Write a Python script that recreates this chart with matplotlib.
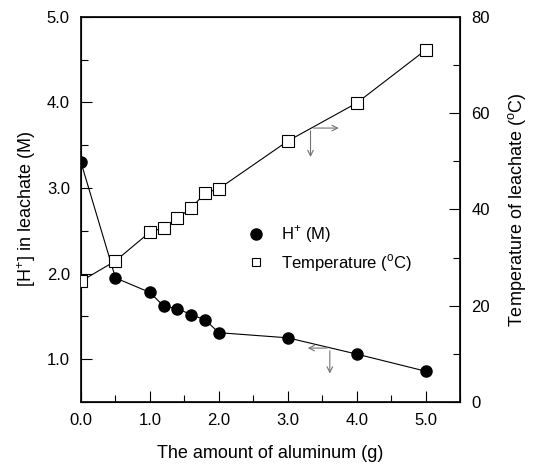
import matplotlib
matplotlib.use("Agg")
import matplotlib.pyplot as plt
from matplotlib.ticker import MultipleLocator
from matplotlib.lines import Line2D

plt.rcParams['font.family'] = ['Liberation Sans', 'DejaVu Sans']
plt.rcParams['mathtext.fontset'] = 'custom'
plt.rcParams['mathtext.rm'] = 'Liberation Sans'

# amount of aluminum (g)
aluminum = [0.0, 0.5, 1.0, 1.2, 1.4, 1.6, 1.8, 2.0, 3.0, 4.0, 5.0]
# [H+] in leachate (M)
h_conc = [3.30, 1.95, 1.78, 1.62, 1.59, 1.52, 1.46, 1.31, 1.25, 1.06, 0.86]
# leachate temperature (C)
temperature = [25.1, 29.3, 35.3, 36.2, 38.2, 40.3, 43.4, 44.3, 54.2, 62.1, 73.1]

fig = plt.figure(figsize=(5.4, 4.68), dpi=100)
ax = fig.add_axes([0.150, 0.141, 0.702, 0.823])
ax2 = ax.twinx()

ax.plot(aluminum, h_conc, '-', color='k', lw=0.8, marker='o', ms=8,
        mfc='k', mec='k', zorder=3)
ax2.plot(aluminum, temperature, '-', color='k', lw=0.8, marker='s', ms=8,
         mfc='white', mec='k', mew=0.8, zorder=3)

ax.set_xlim(0, 5.5)
ax.set_ylim(0.5, 5.0)
ax2.set_ylim(0, 80)

ax.xaxis.set_major_locator(MultipleLocator(1.0))
ax.xaxis.set_minor_locator(MultipleLocator(0.5))
ax.yaxis.set_major_locator(MultipleLocator(1.0))
ax.yaxis.set_minor_locator(MultipleLocator(0.5))
ax2.yaxis.set_major_locator(MultipleLocator(20))
ax2.yaxis.set_minor_locator(MultipleLocator(10))
ax.xaxis.set_major_formatter(lambda v, p: f"{v:.1f}")
ax.yaxis.set_major_formatter(lambda v, p: f"{v:.1f}")

ax.tick_params(axis='both', which='major', direction='in', length=8, width=0.8,
               labelsize=12, pad=8)
ax.tick_params(axis='both', which='minor', direction='in', length=5, width=0.8)
ax.tick_params(axis='x', top=False)
ax2.tick_params(axis='y', which='major', direction='in', length=8, width=0.8,
                labelsize=12, pad=8)
ax2.tick_params(axis='y', which='minor', direction='in', length=5, width=0.8)

for sp in ax.spines.values():
    sp.set_linewidth(1.2)

ax.set_xlabel('The amount of aluminum (g)', fontsize=13, labelpad=12)
ax.set_ylabel(r'[H$^{+}$] in leachate (M)', fontsize=13, labelpad=6)
ax2.set_ylabel(r'Temperature of leachate ($^{\mathrm{o}}$C)', fontsize=13, labelpad=12)

# arrows pointing to the axes each curve belongs to
arrow_kw = dict(arrowstyle='->', color='0.45', lw=0.8)
ax2.annotate('', xy=(3.78, 56.9), xytext=(3.33, 56.9), arrowprops=arrow_kw)
ax2.annotate('', xy=(3.33, 50.3), xytext=(3.33, 56.9), arrowprops=arrow_kw)
ax.annotate('', xy=(3.25, 1.13), xytext=(3.61, 1.13), arrowprops=arrow_kw)
ax.annotate('', xy=(3.61, 0.80), xytext=(3.61, 1.13), arrowprops=arrow_kw)

handles = [
    Line2D([], [], ls='none', marker='o', ms=8, mfc='k', mec='k'),
    Line2D([], [], ls='none', marker='s', ms=6, mfc='white', mec='k', mew=0.8),
]
ax2.legend(handles, [r'H$^{+}$ (M)', r'Temperature ($^{\mathrm{o}}$C)'],
           loc='upper left', bbox_to_anchor=(0.397, 0.485), frameon=False,
           fontsize=12, handletextpad=0.5, labelspacing=0.4, borderpad=0)

fig.savefig('out.png', dpi=100)
